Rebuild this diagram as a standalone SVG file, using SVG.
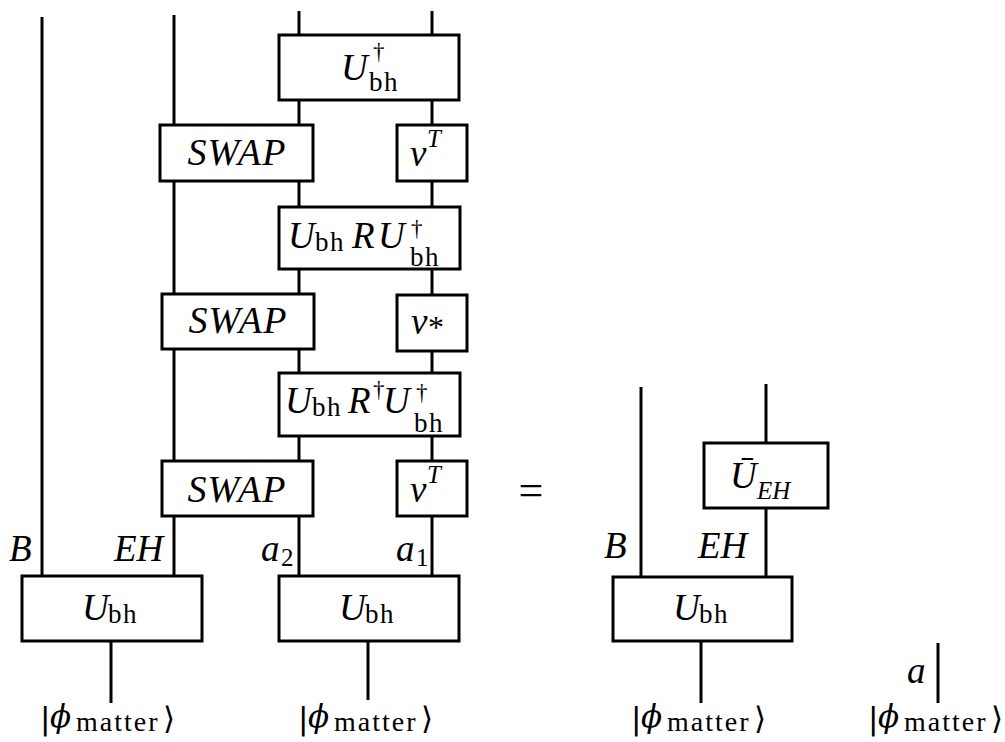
<svg xmlns="http://www.w3.org/2000/svg" width="1005" height="742" viewBox="0 0 1005 742">
<style>
.w{stroke:#000;stroke-width:3;fill:none}
.bx{fill:#fff;stroke:#000;stroke-width:3}
.m{font-family:"Liberation Serif","DejaVu Serif",serif;font-style:italic;font-size:37px;fill:#000}
.r{font-style:normal;font-size:27px;letter-spacing:1.5px}
.sup{font-style:normal;font-size:23px;letter-spacing:0}
.supi{font-style:italic;font-size:25px;letter-spacing:0}
.sw{font-family:"Liberation Serif",serif;font-style:italic;font-size:38px;letter-spacing:1.2px;fill:#000}
.ket{font-family:"DejaVu Sans",sans-serif;font-style:normal;font-size:31px}
.phi{font-family:"DejaVu Serif",serif;font-style:italic;font-size:31px}
.mat{font-family:"Liberation Serif",serif;font-style:normal;font-size:28px;letter-spacing:2px}
.eq{font-family:"Liberation Serif",serif;font-size:44px;fill:#000}
.in{font-family:"Liberation Serif",serif;fill:#000}
</style>
<rect width="1005" height="742" fill="#fff"/>
<g id="connectors">
<line class="w" x1="42" y1="17" x2="42" y2="576"/>
<line class="w" x1="174" y1="15" x2="174" y2="576"/>
<line class="w" x1="299" y1="11" x2="299" y2="576"/>
<line class="w" x1="432" y1="11" x2="432" y2="576"/>
<line class="w" x1="111" y1="641" x2="111" y2="703"/>
<line class="w" x1="368" y1="641" x2="368" y2="700"/>
<line class="w" x1="641" y1="387" x2="641" y2="577"/>
<line class="w" x1="766" y1="384" x2="766" y2="577"/>
<line class="w" x1="701" y1="641" x2="701" y2="703"/>
<line class="w" x1="938" y1="643" x2="938" y2="703"/>
</g>
<g id="udag-top">
<rect class="bx" x="279" y="35" width="180" height="65"/>
<text class="m"><tspan x="341" y="80">U</tspan><tspan class="sup" x="373" y="59">†</tspan><tspan class="r" x="369" y="91">bh</tspan></text>
</g>
<g id="swap1">
<rect class="bx" x="160" y="125" width="153" height="56"/>
<text class="sw" x="237" y="165" text-anchor="middle">SWAP</text>
</g>
<g id="vT1">
<rect class="bx" x="397" y="125" width="70" height="56"/>
<text class="m"><tspan x="410" y="166">v</tspan><tspan class="supi" x="427" y="147">T</tspan></text>
</g>
<g id="uru">
<rect class="bx" x="279" y="207" width="181" height="62"/>
<text class="m"><tspan x="288" y="248">U</tspan><tspan class="r" x="315" y="251">bh</tspan><tspan x="352" y="248">R</tspan><tspan x="378" y="248">U</tspan><tspan class="sup" x="411" y="236">†</tspan><tspan class="r" x="410" y="266">bh</tspan></text>
</g>
<g id="swap2">
<rect class="bx" x="162" y="294" width="152" height="55"/>
<text class="sw" x="238" y="333" text-anchor="middle">SWAP</text>
</g>
<g id="vstar">
<rect class="bx" x="397" y="295" width="70" height="56"/>
<text class="m"><tspan x="411" y="334">v</tspan><tspan x="428" y="338" style="font-style:normal;font-size:32px">*</tspan></text>
</g>
<g id="urdu">
<rect class="bx" x="279" y="373" width="181" height="63"/>
<text class="m"><tspan x="285" y="413">U</tspan><tspan class="r" x="312" y="416">bh</tspan><tspan x="348" y="413">R</tspan><tspan class="sup" x="373" y="397">†</tspan><tspan x="383" y="413">U</tspan><tspan class="sup" x="416" y="400">†</tspan><tspan class="r" x="414" y="432">bh</tspan></text>
</g>
<g id="swap3">
<rect class="bx" x="162" y="461" width="151" height="55"/>
<text class="sw" x="237" y="502" text-anchor="middle">SWAP</text>
</g>
<g id="vT3">
<rect class="bx" x="397" y="461" width="70" height="55"/>
<text class="m"><tspan x="410" y="502">v</tspan><tspan class="supi" x="427" y="483">T</tspan></text>
</g>
<g id="ubh-left">
<rect class="bx" x="22" y="576" width="180" height="65"/>
<text class="m"><tspan x="82" y="620">U</tspan><tspan class="r" x="108" y="623">bh</tspan></text>
</g>
<g id="ubh-mid">
<rect class="bx" x="279" y="576" width="180" height="65"/>
<text class="m"><tspan x="339" y="620">U</tspan><tspan class="r" x="365" y="623">bh</tspan></text>
</g>
<g id="labels-left">
<text class="m" x="9" y="561">B</text>
<text class="m" x="114" y="561">EH</text>
<text class="m"><tspan x="261" y="561">a</tspan><tspan class="r" x="281" y="566" style="font-size:25px">2</tspan></text>
<text class="m"><tspan x="396" y="561">a</tspan><tspan class="r" x="416" y="566" style="font-size:25px">1</tspan></text>
</g>
<g id="in-left">
<text class="in"><tspan class="ket" x="40" y="729">|</tspan><tspan class="phi" x="50" y="727">ϕ</tspan><tspan class="mat" x="76" y="731">matter</tspan><tspan class="ket" x="163" y="729">⟩</tspan></text>
</g>
<g id="in-mid">
<text class="in"><tspan class="ket" x="298" y="729">|</tspan><tspan class="phi" x="308" y="727">ϕ</tspan><tspan class="mat" x="334" y="731">matter</tspan><tspan class="ket" x="421" y="729">⟩</tspan></text>
</g>
<g id="equals">
<text class="eq" x="531" y="505" text-anchor="middle">=</text>
</g>
<g id="ueh">
<rect class="bx" x="704" y="443" width="124" height="65"/>
<text class="m"><tspan x="730" y="488">Ū</tspan><tspan class="supi" x="757" y="499">EH</tspan></text>
</g>
<g id="ubh-right">
<rect class="bx" x="613" y="577" width="179" height="64"/>
<text class="m"><tspan x="673" y="620">U</tspan><tspan class="r" x="699" y="623">bh</tspan></text>
</g>
<g id="labels-right">
<text class="m" x="604" y="558">B</text>
<text class="m" x="698" y="558">EH</text>
<text class="m" x="907" y="683">a</text>
</g>
<g id="in-right">
<text class="in"><tspan class="ket" x="631" y="729">|</tspan><tspan class="phi" x="641" y="727">ϕ</tspan><tspan class="mat" x="667" y="731">matter</tspan><tspan class="ket" x="754" y="729">⟩</tspan></text>
</g>
<g id="in-a">
<text class="in"><tspan class="ket" x="868" y="729">|</tspan><tspan class="phi" x="878" y="727">ϕ</tspan><tspan class="mat" x="904" y="731">matter</tspan><tspan class="ket" x="991" y="729">⟩</tspan></text>
</g>
</svg>
